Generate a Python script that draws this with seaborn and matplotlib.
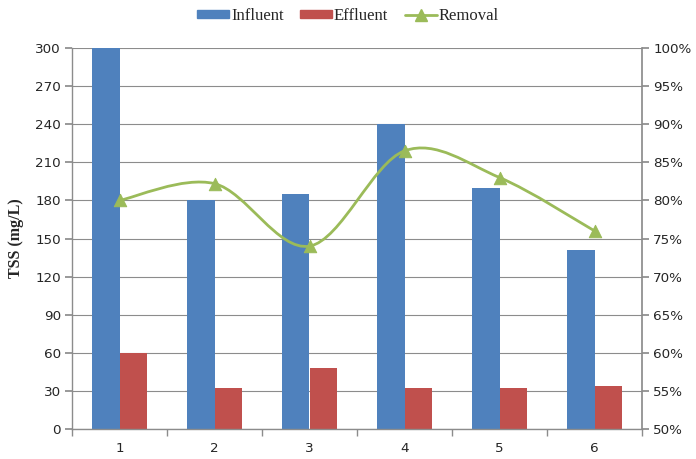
import numpy as np
import pandas as pd
import matplotlib
matplotlib.use("Agg")
import matplotlib.pyplot as plt
from matplotlib.path import Path
from matplotlib.patches import PathPatch
from matplotlib.lines import Line2D
from matplotlib.patches import Patch
import seaborn as sns

categories = ["1", "2", "3", "4", "5", "6"]
influent = [300, 180, 185, 240, 190, 141]
effluent = [60, 32, 48, 32, 32, 34]
removal = [0.80, 0.822, 0.74, 0.865, 0.83, 0.76]

left_ticks = [0, 30, 60, 90, 120, 150, 180, 210, 240, 270, 300]
right_ticks = [0.50, 0.55, 0.60, 0.65, 0.70, 0.75, 0.80, 0.85, 0.90, 0.95, 1.00]

BLUE = "#4F81BD"
RED = "#C0504D"
GREEN = "#9BBB59"
GRID = "#8C8C8C"

sns.set_theme(style="white")
plt.rcParams['font.family'] = ['DejaVu Sans']

df = pd.DataFrame({
    "Sample": categories * 2,
    "TSS": influent + effluent,
    "Series": ["Influent"] * 6 + ["Effluent"] * 6,
})

fig = plt.figure(figsize=(6.96, 4.59), dpi=100)
ax = fig.add_axes([72 / 696, 30 / 459, 570 / 696, 381 / 459])

sns.barplot(data=df, x="Sample", y="TSS", hue="Series", palette=[BLUE, RED],
            width=0.57, gap=0, ax=ax, legend=False, saturation=1, linewidth=0)
ax.set_xlim(-0.5, 5.5)
ax.set_ylim(0, 300)
ax.set_yticks(left_ticks)
ax.yaxis.grid(True, color=GRID, linewidth=0.8)
ax.set_axisbelow(True)
ax.set_xlabel("")
ax.set_ylabel("TSS (mg/L)", fontsize=11.5, fontweight="bold", family="Liberation Serif")
ax.yaxis.set_label_coords(-0.084, 0.5)
ax.tick_params(axis="x", length=0, labelsize=9.7, pad=9)
ax.tick_params(axis="y", length=5, color=GRID, labelsize=9.7, direction="out", left=True, pad=3)
ax.set_xticks(np.arange(-0.5, 6.0, 1.0), minor=True)
ax.tick_params(axis="x", which="minor", length=5, color=GRID, bottom=True, direction="out")
for s in ["top", "right"]:
    ax.spines[s].set_visible(False)
for s in ["left", "bottom"]:
    ax.spines[s].set_color(GRID)
    ax.spines[s].set_linewidth(1)

ax2 = ax.twinx()
ax2.set_ylim(0.5, 1.0)
ax2.set_yticks(right_ticks)
ax2.set_yticklabels([f"{int(round(t*100))}%" for t in right_ticks], fontsize=9.7)
ax2.tick_params(axis="y", length=5, color=GRID, direction="out", right=True, pad=3)
for s in ["top", "left", "bottom"]:
    ax2.spines[s].set_visible(False)
ax2.spines["right"].set_color(GRID)
ax2.grid(False)

# smoothed line (Bezier through data points, drawn in data coordinates)
xs = np.arange(len(removal), dtype=float)
ys = np.array(removal)
pts = np.column_stack([xs, ys])
verts = [tuple(pts[0])]
codes = [Path.MOVETO]
n = len(pts)
for i in range(n - 1):
    p0 = pts[i - 1] if i > 0 else pts[i]
    p1 = pts[i]
    p2 = pts[i + 1]
    p3 = pts[i + 2] if i + 2 < n else pts[i + 1]
    c1 = p1 + (p2 - p0) / 6.0
    c2 = p2 - (p3 - p1) / 6.0
    verts += [tuple(c1), tuple(c2), tuple(p2)]
    codes += [Path.CURVE4] * 3
ax2.add_patch(PathPatch(Path(verts, codes), facecolor="none", edgecolor=GREEN, linewidth=2.0))
sns.scatterplot(x=xs, y=ys, marker="^", s=80, color=GREEN, edgecolor=GREEN, ax=ax2, zorder=5, legend=False)

handles = [Patch(facecolor=BLUE, edgecolor=BLUE), Patch(facecolor=RED, edgecolor=RED),
           Line2D([0], [0], color=GREEN, lw=2.0, marker="^", markersize=8)]
fig.legend(handles, ["Influent", "Effluent", "Removal"], loc="center", bbox_to_anchor=(0.5, 1 - 16 / 459),
           ncol=3, frameon=False, handlelength=1.9, handleheight=0.42, handletextpad=0.12,
           columnspacing=1.0, prop={"family": "Liberation Serif", "size": 12})

fig.savefig("out.png", dpi=100)
